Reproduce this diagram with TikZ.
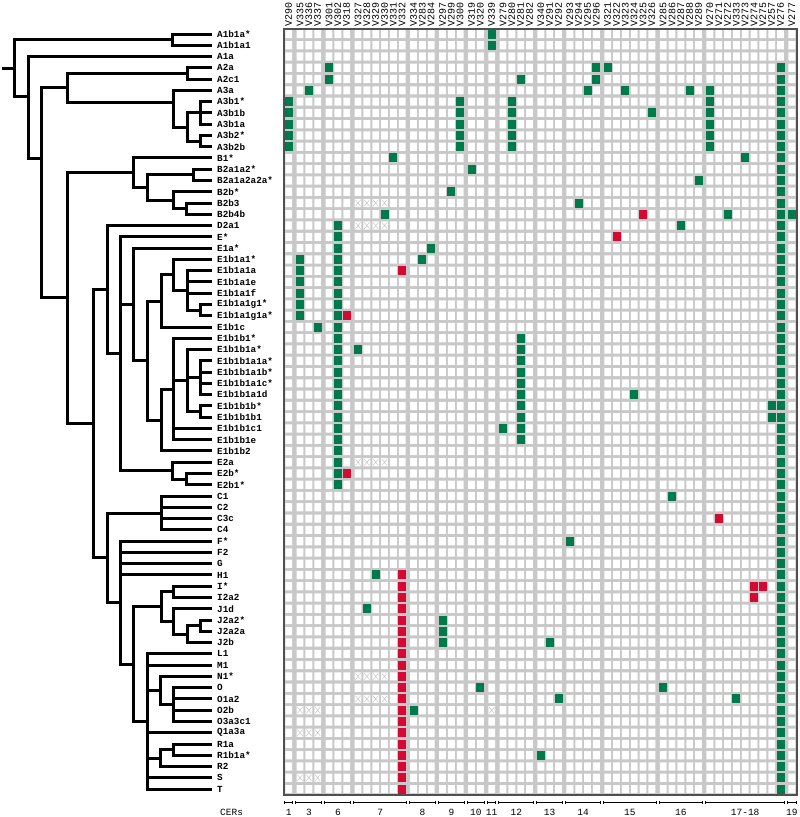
\documentclass[tikz,border=0pt]{standalone}
\usepackage{fontspec}
\setmonofont{Liberation Mono}
\definecolor{gr}{RGB}{0,122,76}
\definecolor{rd}{RGB}{212,10,50}
\definecolor{bgg}{RGB}{200,200,200}
\definecolor{bdd}{RGB}{80,80,80}
\tikzset{
 lab/.style={anchor=west, inner sep=0pt, font=\ttfamily\bfseries\fontsize{9.3}{10}\selectfont},
 hdr/.style={anchor=west, rotate=90, inner sep=0pt, font=\ttfamily\fontsize{10}{10}\selectfont},
 cer/.style={inner sep=0pt, font=\ttfamily\fontsize{9.5}{10}\selectfont},
 gcell/.style={fill=gr, minimum width=8pt, minimum height=9pt, inner sep=0pt, draw=none},
 rcell/.style={gcell, fill=rd},
 xline/.style={draw=black!25, line width=0.4pt},
 br/.style={line width=3pt, line join=miter},
 cerline/.style={line width=0.9pt},
}
\def\CX#1{\csname cx#1\endcsname}
\def\RY#1{\csname ry#1\endcsname}
\newcommand\mk[3]{\node[#3] (m#1-#2) at (\CX{#1},\RY{#2}) {};}
\newcommand\xk[2]{\draw[xline] (\CX{#1}-2.6,\RY{#2}-3.2) -- (\CX{#1}+2.6,\RY{#2}+3.2) (\CX{#1}-2.6,\RY{#2}+3.2) -- (\CX{#1}+2.6,\RY{#2}-3.2);}
\newcommand\grp[3]{\draw[cerline] (\CX{#1}-4.2,802.7) -- (\CX{#2}+4.2,802.7) (\CX{#1}-4.2,801.2) -- (\CX{#1}-4.2,804) (\CX{#2}+4.2,801.2) -- (\CX{#2}+4.2,804);
 \node[cer] (cer#1) at ({(\CX{#1}+\CX{#2})/2},812) {#3};}
\begin{document}
\begin{tikzpicture}[x=1pt,y=-1pt]
\useasboundingbox (0,0) rectangle (800,817);
\foreach \g [count=\c] in {0,1,1,1,2,2,2,3,3,3,3,3,3,4,4,4,5,5,5,6,6,7,8,8,8,8,9,9,9,10,10,10,10,11,11,11,11,11,11,12,12,12,12,12,13,13,13,13,13,13,13,13,13,14}
 {\pgfmathsetmacro\tmp{288.7+(\c-1)*8.833+\g*2.5}\expandafter\xdef\csname cx\c\endcsname{\tmp}}
\foreach \r in {1,...,68}
 {\pgfmathsetmacro\tmp{34+(\r-1)*11.27}\expandafter\xdef\csname ry\r\endcsname{\tmp}}
% grid
\fill[bgg] (284,29) rectangle (797,795);
\foreach \c in {1,...,54} {\fill[white] \foreach \r in {1,...,68} {(\CX{\c}-3.4,\RY{\r}-4.1) rectangle ++(6.8,8.2)};}
\draw[bdd, line width=1.2pt] (284,29) rectangle (797,795);
% X cells
\foreach \r in {16,18,39,58,60} {\foreach \c in {8,9,10,11} {\xk{\c}{\r}}}
\foreach \r in {61,63,67} {\foreach \c in {2,3,4} {\xk{\c}{\r}}}
\xk{22}{61}
% green cells
\mk{22}{1}{gcell}\mk{22}{2}{gcell}
\mk{5}{4}{gcell}\mk{33}{4}{gcell}\mk{34}{4}{gcell}
\mk{5}{5}{gcell}\mk{25}{5}{gcell}\mk{33}{5}{gcell}
\mk{3}{6}{gcell}\mk{32}{6}{gcell}\mk{36}{6}{gcell}\mk{43}{6}{gcell}\mk{45}{6}{gcell}
\foreach \r in {7,...,11} {\mk{1}{\r}{gcell}\mk{19}{\r}{gcell}\mk{24}{\r}{gcell}\mk{45}{\r}{gcell}}
\mk{39}{8}{gcell}
\mk{12}{12}{gcell}\mk{49}{12}{gcell}
\mk{20}{13}{gcell}\mk{44}{14}{gcell}\mk{18}{15}{gcell}\mk{31}{16}{gcell}
\mk{11}{17}{gcell}\mk{38}{17}{rcell}\mk{47}{17}{gcell}\mk{54}{17}{gcell}
\mk{42}{18}{gcell}\mk{35}{19}{rcell}\mk{16}{20}{gcell}\mk{15}{21}{gcell}
\foreach \r in {18,...,41} {\mk{6}{\r}{gcell}}
\foreach \r in {21,...,26} {\mk{2}{\r}{gcell}}
\mk{13}{22}{rcell}\mk{7}{26}{rcell}\mk{4}{27}{gcell}
\foreach \r in {28,...,37} {\mk{25}{\r}{gcell}}
\mk{8}{29}{gcell}\mk{37}{33}{gcell}\mk{52}{34}{gcell}\mk{52}{35}{gcell}\mk{23}{36}{gcell}
\mk{7}{40}{rcell}
\mk{41}{42}{gcell}\mk{46}{44}{rcell}\mk{30}{46}{gcell}
\mk{10}{49}{gcell}
\foreach \r in {49,...,68} {\mk{13}{\r}{rcell}}
\mk{50}{50}{rcell}\mk{51}{50}{rcell}\mk{50}{51}{rcell}
\mk{9}{52}{gcell}\mk{17}{53}{gcell}\mk{17}{54}{gcell}\mk{17}{55}{gcell}\mk{28}{55}{gcell}
\mk{21}{59}{gcell}\mk{40}{59}{gcell}\mk{29}{60}{gcell}\mk{48}{60}{gcell}
\mk{14}{61}{gcell}\mk{27}{65}{gcell}
\foreach \r in {4,...,68} {\mk{53}{\r}{gcell}}
% headers
\foreach \t [count=\c] in {V290,V335,V336,V337,V301,V302,V318,V327,V328,V329,V330,V331,V332,V334,V283,V284,V297,V299,V300,V319,V320,V339,V279,V280,V281,V282,V340,V291,V292,V293,V294,V295,V296,V321,V322,V323,V324,V325,V326,V285,V286,V287,V288,V289,V270,V271,V272,V333,V273,V274,V275,V257,V276,V277}
 {\node[hdr] (h\c) at (\CX{\c},26.5) {\t};}
% labels
\foreach \t [count=\r] in {A1b1a*,A1b1a1,A1a,A2a,A2c1,A3a,A3b1*,A3b1b,A3b1a,A3b2*,A3b2b,B1*,B2a1a2*,B2a1a2a2a*,B2b*,B2b3,B2b4b,D2a1,E*,E1a*,E1b1a1*,E1b1a1a,E1b1a1e,E1b1a1f,E1b1a1g1*,E1b1a1g1a*,E1b1c,E1b1b1*,E1b1b1a*,E1b1b1a1a*,E1b1b1a1b*,E1b1b1a1c*,E1b1b1a1d,E1b1b1b*,E1b1b1b1,E1b1b1c1,E1b1b1e,E1b1b2,E2a,E2b*,E2b1*,C1,C2,C3c,C4,F*,F2,G,H1,I*,I2a2,J1d,J2a2*,J2a2a,J2b,L1,M1,N1*,O,O1a2,O2b,O3a3c1,Q1a3a,R1a,R1b1a*,R2,S,T}
 {\node[lab] (t\r) at (217,\RY{\r}) {\t}; \coordinate (lf\r) at (212,\RY{\r});}
% CER groups
\grp{1}{1}{1}\grp{2}{4}{3}\grp{5}{7}{6}\grp{8}{13}{7}\grp{14}{16}{8}\grp{17}{19}{9}\grp{20}{21}{10}\grp{22}{22}{11}\grp{23}{26}{12}\grp{27}{29}{13}\grp{30}{33}{14}\grp{34}{39}{15}\grp{40}{44}{16}\grp{45}{53}{17-18}\grp{54}{54}{19}
\node[cer, anchor=west] (cers) at (220,812) {CERs};
% tree
\coordinate (stub) at (2,68);
\coordinate (nRoot) at (14,68);
\coordinate (nA0) at (172,39.6);
\coordinate (n1) at (28,96);
\coordinate (n2) at (41,158);
\coordinate (nA23) at (67,87);
\coordinate (nA2) at (187,73.4);
\coordinate (nA3) at (173,102);
\coordinate (nA3b) at (187,127);
\coordinate (nA3b1) at (200,112.9);
\coordinate (nA3b2) at (200,141);
\coordinate (nBT) at (67,297.9);
\coordinate (nB) at (133,172);
\coordinate (nB2) at (147,187.5);
\coordinate (nB2a) at (193,174.9);
\coordinate (nB2b) at (173,200);
\coordinate (nB2b34) at (186,208.7);
\coordinate (nCT) at (93,423.7);
\coordinate (nDE) at (107,289.7);
\coordinate (nE) at (120,353.8);
\coordinate (nE1) at (133,304.3);
\coordinate (nE1b) at (147,360.5);
\coordinate (nE1b1ac) at (161,301);
\coordinate (nE1b1a1) at (173,274.9);
\coordinate (nE1b1a1x) at (187,290.4);
\coordinate (nG1) at (200,310.1);
\coordinate (nE1b1b) at (161,420);
\coordinate (nE1b1b1) at (173,389);
\coordinate (nX187) at (187,380.6);
\coordinate (nA1x) at (200,377.7);
\coordinate (nBx) at (200,411.5);
\coordinate (nE2) at (172,470.7);
\coordinate (nE2b) at (186,479.2);
\coordinate (nCF) at (107,557.8);
\coordinate (nC) at (161,513);
\coordinate (nF) at (120,602.6);
\coordinate (nIJK) at (133,664);
\coordinate (nIJ) at (161,606.6);
\coordinate (nI) at (173,591.8);
\coordinate (nJ) at (173,621.4);
\coordinate (nJ2) at (187,634.1);
\coordinate (nJ2a) at (200,625.6);
\coordinate (nK) at (147,721.4);
\coordinate (nNO) at (160,690.4);
\coordinate (nO) at (173,704.5);
\coordinate (nRR) at (160,758);
\coordinate (nR1) at (173,749.6);
\draw[br] (stub) -- (nRoot);
\foreach \p/\k in {nRoot/nA0,nRoot/n1,nA0/lf1,nA0/lf2,n1/lf3,n1/n2,n2/nA23,n2/nBT,nA23/nA2,nA23/nA3,nA2/lf4,nA2/lf5,nA3/lf6,nA3/nA3b,nA3b/nA3b1,nA3b/nA3b2,nA3b1/lf7,nA3b1/lf8,nA3b1/lf9,nA3b2/lf10,nA3b2/lf11,
 nBT/nB,nBT/nCT,nB/lf12,nB/nB2,nB2/nB2a,nB2/nB2b,nB2a/lf13,nB2a/lf14,nB2b/lf15,nB2b/nB2b34,nB2b34/lf16,nB2b34/lf17,
 nCT/nDE,nCT/nCF,nDE/lf18,nDE/nE,nE/lf19,nE/nE1,nE/nE2,nE1/lf20,nE1/nE1b,nE1b/nE1b1ac,nE1b/nE1b1b,nE1b1ac/nE1b1a1,nE1b1ac/lf27,nE1b1a1/lf21,nE1b1a1/nE1b1a1x,nE1b1a1x/lf22,nE1b1a1x/lf23,nE1b1a1x/lf24,nE1b1a1x/nG1,nG1/lf25,nG1/lf26,
 nE1b1b/nE1b1b1,nE1b1b/lf38,nE1b1b1/lf28,nE1b1b1/nX187,nE1b1b1/lf36,nE1b1b1/lf37,nX187/lf29,nX187/nA1x,nX187/nBx,nA1x/lf30,nA1x/lf31,nA1x/lf32,nA1x/lf33,nBx/lf34,nBx/lf35,
 nE2/lf39,nE2/nE2b,nE2b/lf40,nE2b/lf41,nCF/nC,nCF/nF,nC/lf42,nC/lf43,nC/lf44,nC/lf45,nF/lf46,nF/lf47,nF/lf48,nF/lf49,nF/nIJK,nIJK/nIJ,nIJK/nK,
 nIJ/nI,nIJ/nJ,nI/lf50,nI/lf51,nJ/lf52,nJ/nJ2,nJ2/nJ2a,nJ2/lf55,nJ2a/lf53,nJ2a/lf54,nK/lf56,nK/lf57,nK/nNO,nK/lf63,nK/nRR,nK/lf67,nK/lf68,nNO/lf58,nNO/nO,nO/lf59,nO/lf60,nO/lf61,nO/lf62,nRR/nR1,nRR/lf66,nR1/lf64,nR1/lf65}
 {\draw[br] (\p) |- (\k);}
\end{tikzpicture}
\end{document}
